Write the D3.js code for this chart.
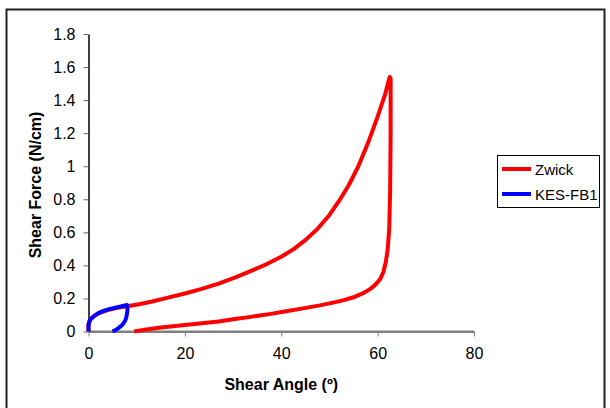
<!DOCTYPE html>
<html>
<head>
<meta charset="utf-8">
<script src="https://cdn.jsdelivr.net/npm/d3@7"></script>
<style>
  body { margin: 0; background: #fff; }
  text { font-family: "Liberation Sans", Arial, sans-serif; }
</style>
</head>
<body>
<div id="chart"></div>
<script>
// Zwick loop (loading then unloading)
var zwickAngle = [0, 0, 0.3, 1, 2, 4, 6, 8.3, 10.5, 13, 16.5, 20, 23.5, 27, 30.5, 34, 37, 40, 42.5, 45, 47.5, 50, 52, 54, 56, 58, 60, 61.5, 62.5,
                  62.7, 62.7, 62.6, 62.4, 62.1, 61.7, 61.2, 60.5, 59.5, 58.5, 57, 55, 53, 51, 48, 44.5, 41, 37.5, 34, 30, 27, 23.5, 20, 15, 12, 9.5];
var zwickForce = [0, 0.04, 0.07, 0.09, 0.11, 0.13, 0.143, 0.154, 0.165, 0.18, 0.205, 0.23, 0.258, 0.29, 0.328, 0.37, 0.408, 0.452, 0.497, 0.553, 0.62, 0.705, 0.79, 0.885, 1.0, 1.14, 1.3, 1.43, 1.54,
                  1.53, 1.2, 0.85, 0.62, 0.5, 0.42, 0.36, 0.315, 0.282, 0.258, 0.232, 0.207, 0.19, 0.176, 0.158, 0.14, 0.122, 0.105, 0.09, 0.074, 0.06, 0.05, 0.04, 0.024, 0.012, 0];

// KES-FB1 loop
var kesAngle = [0, 0, 0.3, 1, 2, 3.1, 4.5, 6, 8, 8.1, 8, 7.8, 7.5, 7, 6.3, 5.6, 5];
var kesForce = [0, 0.04, 0.07, 0.09, 0.11, 0.125, 0.137, 0.147, 0.16, 0.14, 0.11, 0.08, 0.06, 0.04, 0.022, 0.008, 0];

var xTicks = [0, 20, 40, 60, 80];
var yTicks = [0, 0.2, 0.4, 0.6, 0.8, 1, 1.2, 1.4, 1.6, 1.8];
var seriesNames = ["Zwick", "KES-FB1"];
var seriesColors = ["#ff0000", "#0000ff"];

var width = 610;
var height = 408;

var svg = d3.select("#chart").append("svg")
    .attr("width", width)
    .attr("height", height);

// outer frame
svg.append("path")
    .attr("d", "M6.5,408 V9.5 H604.5 V408")
    .attr("fill", "none")
    .attr("stroke", "#222")
    .attr("stroke-width", 2);

var xScale = d3.scaleLinear().domain([0, 80]).range([88.5, 474]);
var yScale = d3.scaleLinear().domain([0, 1.8]).range([331.5, 34]);

// x axis (grey)
var xAxis = svg.append("g")
    .attr("transform", "translate(0," + yScale(0) + ")")
    .call(d3.axisBottom(xScale).tickValues(xTicks).tickSize(5).tickPadding(11).tickSizeOuter(0));
xAxis.select(".domain").attr("stroke", "#808080").attr("stroke-width", 2);
xAxis.selectAll(".tick line").attr("stroke", "#808080");
xAxis.selectAll("text").attr("font-size", 16).attr("fill", "#000")
    .style("font-family", "Liberation Sans, Arial, sans-serif");

// y axis
var yAxis = svg.append("g")
    .attr("transform", "translate(" + xScale(0) + ",0)")
    .call(d3.axisLeft(yScale).tickValues(yTicks).tickSize(5).tickPadding(8).tickSizeOuter(0)
        .tickFormat(function(d) { return String(+d.toFixed(1)); }));
yAxis.select(".domain").attr("stroke", "#000").attr("stroke-width", 1.5);
yAxis.selectAll(".tick line").attr("stroke", "#666");
yAxis.selectAll("text").attr("font-size", 16).attr("fill", "#000")
    .style("font-family", "Liberation Sans, Arial, sans-serif");

// redraw x axis line on top of y
svg.append("line")
    .attr("x1", xScale(0)).attr("x2", xScale(80))
    .attr("y1", yScale(0)).attr("y2", yScale(0))
    .attr("stroke", "#808080").attr("stroke-width", 2);

// axis titles
svg.append("text")
    .attr("x", (xScale(0) + xScale(80)) / 2)
    .attr("y", 390)
    .attr("text-anchor", "middle")
    .attr("font-size", 16)
    .attr("font-weight", "bold")
    .text("Shear Angle (º)");

svg.append("text")
    .attr("transform", "translate(41," + 185 + ")rotate(-90)")
    .attr("text-anchor", "middle")
    .attr("font-size", 16)
    .attr("font-weight", "bold")
    .text("Shear Force (N/cm)");

var line = d3.line()
    .x(function(d) { return xScale(d[0]); })
    .y(function(d) { return yScale(d[1]); });

var zwickData = zwickAngle.map(function(a, i) { return [a, zwickForce[i]]; });
var kesData = kesAngle.map(function(a, i) { return [a, kesForce[i]]; });

svg.append("path")
    .datum(zwickData)
    .attr("d", line)
    .attr("fill", "none")
    .attr("stroke", seriesColors[0])
    .attr("stroke-width", 4)
    .attr("stroke-linejoin", "round");

svg.append("path")
    .datum(kesData)
    .attr("d", line)
    .attr("fill", "none")
    .attr("stroke", seriesColors[1])
    .attr("stroke-width", 4)
    .attr("stroke-linejoin", "round");

// legend
var legend = svg.append("g");
legend.append("rect")
    .attr("x", 497.5).attr("y", 155.5)
    .attr("width", 102).attr("height", 52)
    .attr("fill", "#fff")
    .attr("stroke", "#000");

seriesNames.forEach(function(name, i) {
    var ly = 169 + i * 25;
    legend.append("line")
        .attr("x1", 502).attr("x2", 531)
        .attr("y1", ly).attr("y2", ly)
        .attr("stroke", seriesColors[i])
        .attr("stroke-width", 4);
    legend.append("text")
        .attr("x", 535).attr("y", ly + 5.5)
        .attr("font-size", 15)
        .text(name);
});
</script>
</body>
</html>
